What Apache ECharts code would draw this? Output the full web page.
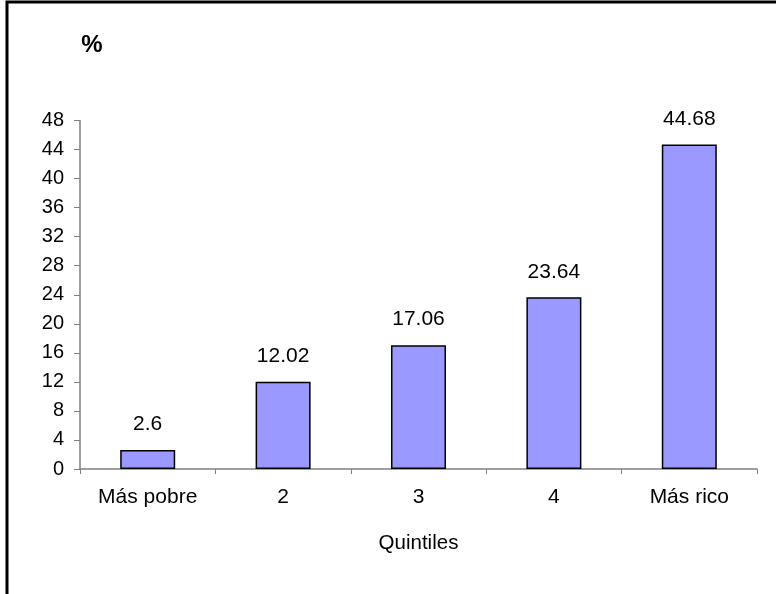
<!DOCTYPE html>
<html>
<head>
<meta charset="utf-8">
<script src="https://cdn.jsdelivr.net/npm/echarts@6/dist/echarts.min.js"></script>
<style>
html,body{margin:0;padding:0;background:#fff;}
#c{width:776px;height:594px;}
</style>
</head>
<body>
<div id="c"></div>
<script>
const categories = ['Más pobre', '2', '3', '4', 'Más rico'];
const values = [2.6, 12.02, 17.06, 23.64, 44.68];
const yMin = 0, yMax = 48, yStep = 4;
const unitLabel = '%';
const xAxisTitle = 'Quintiles';

const FONT = '"Liberation Sans", Arial, sans-serif';
const chart = echarts.init(document.getElementById('c'), null, {renderer: 'canvas'});
chart.setOption({
  animation: false,
  backgroundColor: '#ffffff',
  grid: {left: 80, top: 120.5, right: 19, bottom: 125, containLabel: false},
  graphic: [
    {type: 'rect', shape: {x: 7, y: 2, width: 1000, height: 1000},
     style: {fill: 'none', stroke: '#000', lineWidth: 3}, silent: true},
    {type: 'text', x: 92, y: 45,
     style: {text: unitLabel, font: 'bold 24px ' + FONT, fill: '#000',
             textAlign: 'center', textVerticalAlign: 'middle'}}
  ],
  xAxis: {
    type: 'category',
    data: categories,
    name: xAxisTitle,
    nameLocation: 'middle',
    nameGap: 64,
    nameTextStyle: {color: '#000', fontFamily: FONT, fontSize: 20.5},
    axisLine: {lineStyle: {color: '#808080', width: 1.5}},
    axisTick: {show: true, length: 5, alignWithLabel: false, lineStyle: {color: '#808080', width: 1}},
    axisLabel: {color: '#000', fontFamily: FONT, fontSize: 21, margin: 18},
    splitLine: {show: false}
  },
  yAxis: {
    type: 'value',
    min: yMin, max: yMax, interval: yStep,
    axisLine: {show: true, lineStyle: {color: '#808080', width: 1.5}},
    axisTick: {show: true, length: 6, lineStyle: {color: '#808080', width: 1}},
    axisLabel: {color: '#000', fontFamily: FONT, fontSize: 20, margin: 16},
    splitLine: {show: false}
  },
  series: [{
    type: 'bar',
    data: values,
    barWidth: 55,
    itemStyle: {color: '#9999ff', borderColor: '#000', borderWidth: 1.5},
    label: {show: true, position: 'top', distance: 15, color: '#000',
            fontFamily: FONT, fontSize: 21}
  }]
});
</script>
</body>
</html>
